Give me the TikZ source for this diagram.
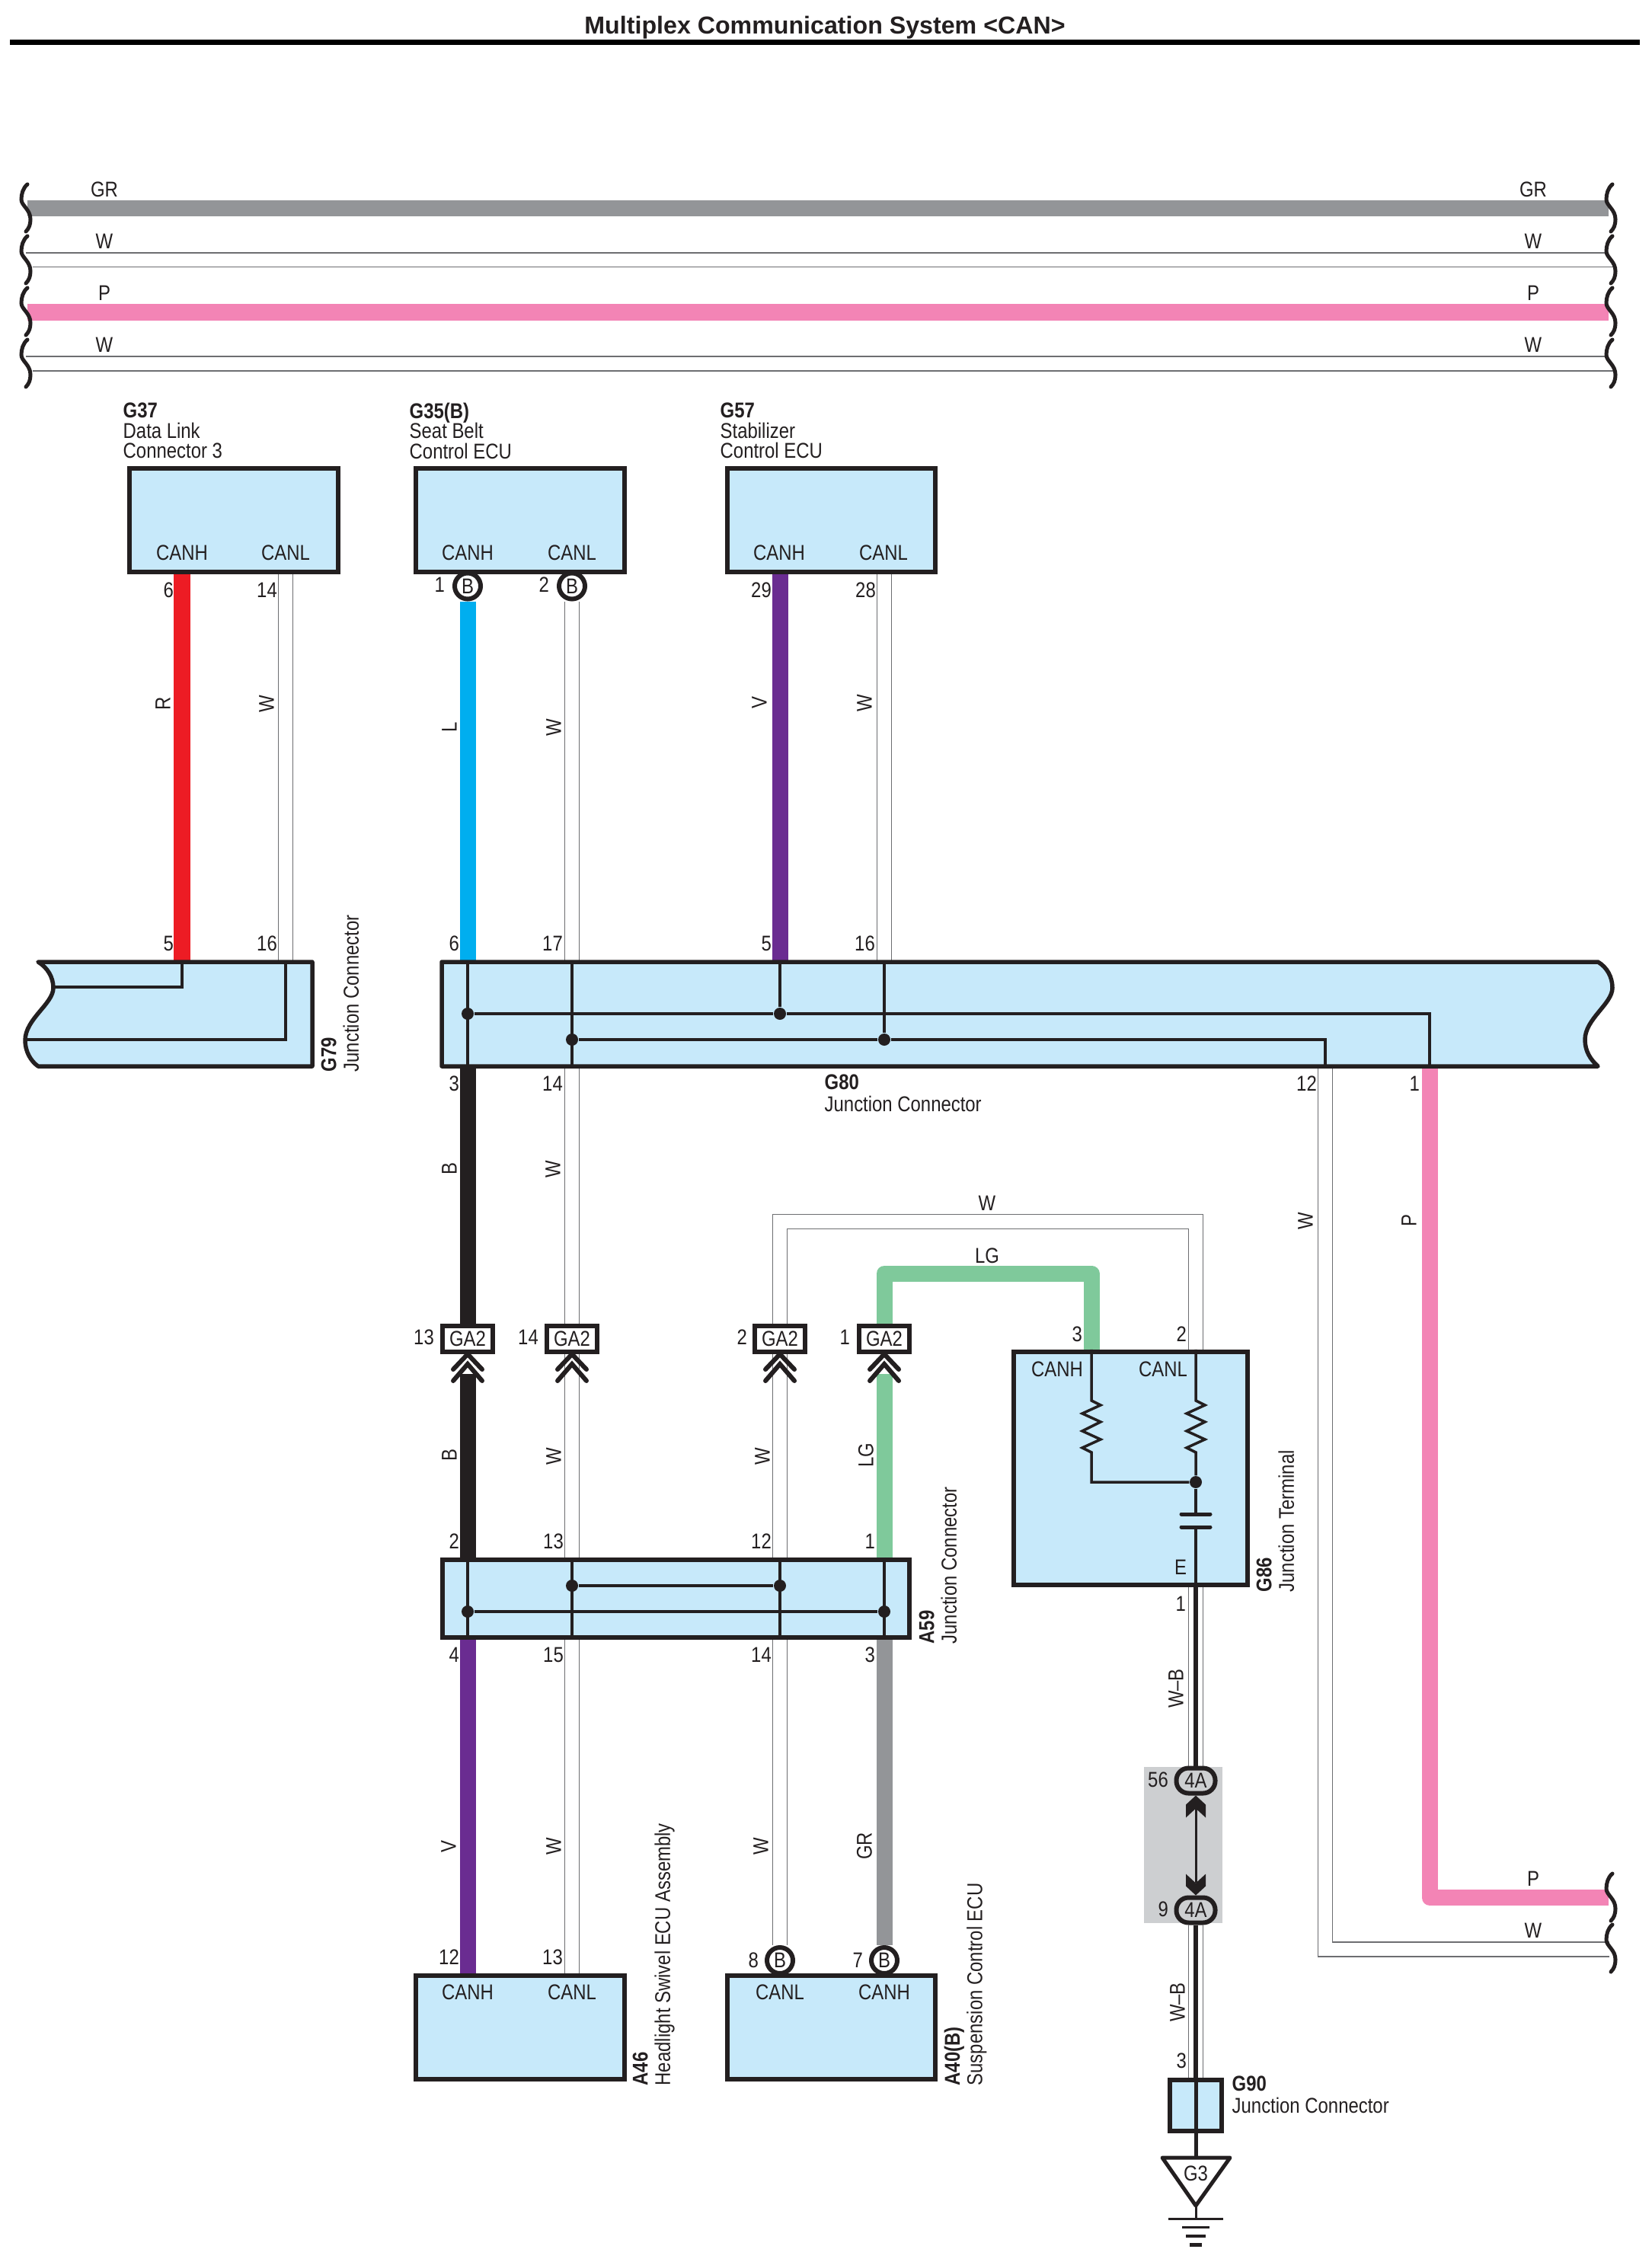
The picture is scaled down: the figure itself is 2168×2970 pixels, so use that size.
\documentclass[tikz,border=0pt]{standalone}
\usepackage{fontspec}
\usetikzlibrary{backgrounds}
\setmainfont{Liberation Sans}[FakeStretch=0.85]
\newfontfamily\titlefont{Liberation Sans}
\definecolor{colGR}{HTML}{939598}
\definecolor{colP}{HTML}{F384B5}
\definecolor{colR}{HTML}{ED1C24}
\definecolor{colL}{HTML}{00AEEF}
\definecolor{colV}{HTML}{6A2C91}
\definecolor{colLG}{HTML}{7FC99B}
\definecolor{colB}{HTML}{231F20}
\definecolor{colW}{HTML}{6D6E71}
\definecolor{colBox}{HTML}{C7E9FA}
\definecolor{colShade}{HTML}{CDCFD1}
\tikzset{
    wire/.style={line width=0.21cm,line join=round},
    wirew/.style={draw=colW,line width=0.015cm,double=white,double distance=0.175cm},
    busw/.style={draw=colW,line width=0.015cm},
    ecu/.style={draw=colB,fill=colBox,line width=0.06cm,minimum width=2.73cm,minimum height=1.36cm},
    torn/.style={draw=colB,fill=colBox,line width=0.055cm,line join=round},
    inner/.style={draw=colB,line width=0.035cm},
    dot/.style={circle,fill=colB,minimum size=0.16cm},
    pinno/.style={anchor=east,xshift=0.015cm},
    wlabel/.style={rotate=90},
    tag/.style={align=left,anchor=north west,font=\fontsize{8}{8.4}\selectfont},
    tagtop/.style={align=left,anchor=north west,font=\fontsize{8}{7.6}\selectfont},
    ring/.style={circle,draw=colB,fill=white,line width=0.06cm,minimum size=0.34cm},
    ga/.style={draw=colB,fill=white,line width=0.06cm,minimum width=0.66cm,minimum height=0.34cm},
    fourA/.style={draw=colB,fill=colShade,line width=0.06cm,rounded corners=0.16cm,minimum width=0.51cm,minimum height=0.33cm},
    brk/.pic={\draw[colB,line width=0.05cm,line cap=round] (0,0) .. controls (-6,5) and (-8,13) .. (-8,20) .. controls (-8,28) and (4,33) .. (4,46) .. controls (4,53) and (2,58) .. (-2,62);},
    dchev/.pic={\draw[colB,line width=0.06cm,line cap=round] (-19,20) -- (0,0) -- (19,20) (-19,35) -- (0,13) -- (19,35);},
}
\begin{document}
\begin{tikzpicture}[x=0.01cm,y=-0.01cm,every node/.style={inner sep=0pt,text=colB,font=\fontsize{8}{9}\selectfont}]
        \useasboundingbox (0,0) rectangle (2168,2970);
        %% Title
        \node[font=\titlefont\bfseries\fontsize{9.15}{11}\selectfont] (title) at (1083,36) {Multiplex Communication System <CAN>};
        \draw[black,line width=0.07cm] (13,56) -- (2153,56);
        %% Columns
        \coordinate (cA) at (239,0);
        \coordinate (cB) at (375,0);
        \coordinate (cC) at (614,0);
        \coordinate (cD) at (751,0);
        \coordinate (cE) at (1024,0);
        \coordinate (cF) at (1161,0);
        \coordinate (cG) at (1433,0);
        \coordinate (cH) at (1570,0);
        \coordinate (cI) at (1740,0);
        \coordinate (cJ) at (1877,0);
        \coordinate (G80top) at (580,1263);
        \coordinate (G80bot) at (580,1400);
        %% Bus
        \pic (brkA) at (36,242) {brk};
        \pic (brkB) at (36,310) {brk};
        \pic (brkC) at (36,378) {brk};
        \pic (brkD) at (36,446) {brk};
        \pic (brkE) at (2117,242) {brk};
        \pic (brkF) at (2117,310) {brk};
        \pic (brkG) at (2117,378) {brk};
        \pic (brkH) at (2117,446) {brk};
        \node (lblGRa) at (137,249) {GR};
        \node (lblWa) at (137,317) {W};
        \node (lblPa) at (137,385) {P};
        \node (lblWb) at (137,453) {W};
        \node (lblGRb) at (2013,249) {GR};
        \node (lblWc) at (2013,317) {W};
        \node (lblPb) at (2013,385) {P};
        \node (lblWd) at (2013,453) {W};
        %% Upper boxes
        \node[ecu] (G37) at (307,683) {};
        \node[ecu] (G35) at (683,683) {};
        \node[ecu] (G57) at (1091.5,683) {};
        \node[tagtop] (tagG37) at (161,528) {\textbf{G37}\\Data Link\\Connector 3};
        \node[tagtop] (tagG35) at (537,528) {\textbf{G35(B)}\\Seat Belt\\Control ECU};
        \node[tagtop] (tagG57) at (945,528) {\textbf{G57}\\Stabilizer\\Control ECU};
        \node (hG37) at (239,726) {CANH};
        \node (lG37) at (375,726) {CANL};
        \node (hG35) at (614,726) {CANH};
        \node (lG35) at (751,726) {CANL};
        \node (hG57) at (1023,726) {CANH};
        \node (lG57) at (1160,726) {CANL};
        \node[ring] (ringa) at (614,769.5) {B};
        \node[ring] (ringb) at (751,769.5) {B};
        \node[wlabel] (lblR) at (214,924) {R};
        \node[wlabel] (lblWe) at (350,924) {W};
        \node[wlabel] (lblL) at (590,955) {L};
        \node[wlabel] (lblWf) at (727,955) {W};
        \node[wlabel] (lblV) at (997,923) {V};
        \node[wlabel] (lblWg) at (1135,923) {W};
        %% Splices
        \node[ga] (gaa) at (614,1757.5) {GA2};
        \node[ga] (gab) at (751,1757.5) {GA2};
        \node[ga] (gac) at (1024,1757.5) {GA2};
        \node[ga] (gad) at (1161,1757.5) {GA2};
        \pic (chevA) at (614,1778) {dchev};
        \pic (chevB) at (751,1778) {dchev};
        \pic (chevC) at (1024,1778) {dchev};
        \pic (chevD) at (1161,1778) {dchev};
        \coordinate (wTop) at (1294,1604);
        \coordinate (lgTop) at (1294,1672);
        \node[wlabel] (lblBa) at (590,1535) {B};
        \node[wlabel] (lblWh) at (726,1535) {W};
        \node (lblWi) at (1296,1580) {W};
        \node (lblLGa) at (1296,1649) {LG};
        \node[wlabel] (lblBb) at (590,1911) {B};
        \node[wlabel] (lblWj) at (727,1912) {W};
        \node[wlabel] (lblWk) at (1001,1912) {W};
        \node[wlabel] (lblLGb) at (1137,1911) {LG};
        %% Lower boxes
        \node[ecu,minimum width=6.13cm,minimum height=1.02cm] (A59) at (887.5,2099) {};
        \node[ecu,minimum width=3.07cm,minimum height=3.06cm] (G86) at (1484.5,1928) {};
        \node[ecu] (A46) at (683,2662) {};
        \node[ecu] (A40) at (1091.5,2662) {};
        \node[ecu,minimum width=0.68cm,minimum height=0.67cm] (G90) at (1570,2764.5) {};
        \node[ring] (ringc) at (1024,2574) {B};
        \node[ring] (ringd) at (1161,2574) {B};
        \node[wlabel] (lblVb) at (589,2424) {V};
        \node[wlabel] (lblWl) at (727,2424) {W};
        \node[wlabel] (lblWm) at (999,2424) {W};
        \node[wlabel] (lblGRc) at (1135,2424) {GR};
        \node (hA46) at (614,2616) {CANH};
        \node (lA46) at (751,2616) {CANL};
        \node (lA40) at (1024,2616) {CANL};
        \node (hA40) at (1161,2616) {CANH};
        \node[tag,rotate=90] (tagA46) at (830,2739) {\textbf{A46}\\Headlight Swivel ECU Assembly};
        \node[tag,rotate=90] (tagA40) at (1239,2739) {\textbf{A40(B)}\\Suspension Control ECU};
        %% G79
        \draw[torn] (410,1263) -- (50,1263) .. controls (62,1270) and (70,1283) .. (70,1297) .. controls (70,1318) and (33,1338) .. (33,1366) .. controls (33,1380) and (40,1393) .. (50,1400) -- (410,1400) -- cycle;
        \draw[inner] (cA |- G80top) -- (cA |- 0,1296) -- (70,1296);
        \draw[inner] (cB |- G80top) -- (cB |- 0,1365) -- (33,1365);
        \node[tag,rotate=90] (tagG79) at (421,1408) {\textbf{G79}\\Junction Connector};
        %% G80
        \draw[torn] (G80top) -- (2098,1263) .. controls (2110,1270) and (2117,1283) .. (2117,1297) .. controls (2117,1318) and (2081,1338) .. (2081,1365) .. controls (2081,1380) and (2088,1391) .. (2098,1400) -- (G80bot) -- cycle;
        \node[dot] (dotA) at (614,1331) {};
        \node[dot] (dotB) at (1024,1331) {};
        \node[dot] (dotC) at (751,1365) {};
        \node[dot] (dotD) at (1161,1365) {};
        \draw[inner] (cC |- G80top) -- (cC |- G80bot);
        \draw[inner] (cD |- G80top) -- (cD |- G80bot);
        \draw[inner] (cE |- G80top) -- (dotB);
        \draw[inner] (cF |- G80top) -- (dotD);
        \draw[inner] (dotA) -- (dotB) -- (cJ |- dotB) -- (cJ |- G80bot);
        \draw[inner] (dotC) -- (dotD) -- (cI |- dotD) -- (cI |- G80bot);
        \node[tag] (tagG80) at (1082,1410) {\textbf{G80}\\Junction Connector};
        %% A59
        \node[dot] (dotE) at (751,2082) {};
        \node[dot] (dotF) at (1024,2082) {};
        \node[dot] (dotG) at (614,2116) {};
        \node[dot] (dotH) at (1161,2116) {};
        \draw[inner] (cC |- A59.north) -- (cC |- A59.south);
        \draw[inner] (cD |- A59.north) -- (cD |- A59.south);
        \draw[inner] (cE |- A59.north) -- (cE |- A59.south);
        \draw[inner] (cF |- A59.north) -- (cF |- A59.south);
        \draw[inner] (dotE) -- (dotF);
        \draw[inner] (dotG) -- (dotH);
        \node[tag,rotate=90] (tagA59) at (1206,2159) {\textbf{A59}\\Junction Connector};
        %% G86
        \node[dot] (dotI) at (1570,1946) {};
        \draw[inner] (cG |- G86.north) -- ++(0,67) -- ++(12,6) -- ++(-24,11) -- ++(24,11) -- ++(-24,12) -- ++(24,11) -- ++(-24,11) -- ++(12,6) |- (dotI);
        \draw[inner] (cH |- G86.north) -- ++(0,67) -- ++(12,6) -- ++(-24,11) -- ++(24,11) -- ++(-24,12) -- ++(24,11) -- ++(-24,11) -- ++(12,6) -- (dotI);
        \coordinate (capA) at (1570,1988);
        \coordinate (capB) at (1570,2005);
        \draw[inner] (dotI) -- (capA);
        \draw[inner] (capB) -- (cH |- G86.south);
        \draw[colB,line width=0.05cm,line cap=round] (capA) ++(-19,0) -- ++(38,0);
        \draw[colB,line width=0.05cm,line cap=round] (capB) ++(-19,0) -- ++(38,0);
        \node (hG86) at (1388,1798) {CANH};
        \node (lG86) at (1527,1798) {CANL};
        \node (eG86) at (1550,2058) {E};
        \node[tag,rotate=90] (tagG86) at (1649,2091) {\textbf{G86}\\Junction Terminal};
        %% Ground wire
        \node[fourA] (fourAa) at (1570,2338) {4A};
        \node[fourA] (fourAb) at (1570,2508) {4A};
        \fill[colB] (fourAa.south) -- ++(13,12) -- ++(0,17) -- ++(-13,-12) -- ++(-13,12) -- ++(0,-17) -- cycle;
        \fill[colB] (fourAb.north) -- ++(13,-12) -- ++(0,-16) -- ++(-13,12) -- ++(-13,-12) -- ++(0,16) -- cycle;
        \draw[colB,line width=0.03cm] (fourAa.south) ++(0,15) -- (1570,2472);
        \coordinate (gndT) at (1570,2833);
        \coordinate (gndA) at (1570,2896);
        \coordinate (gndE) at (1570,2913);
        \draw[colB,line width=0.05cm] (G90.north) -- (gndT);
        \draw[colB,line width=0.05cm,line join=round] (1526,2833) -- (1615,2833) -- (gndA) -- cycle;
        \draw[colB,line width=0.03cm] (gndA) -- (gndE);
        \draw[colB,line width=0.03cm] (gndE) ++(-36,0) -- ++(72,0);
        \draw[colB,line width=0.03cm] (gndE) ++(-18,11.5) -- ++(36,0);
        \draw[colB,line width=0.04cm] (gndE) ++(-13,23) -- ++(26,0);
        \draw[colB,line width=0.05cm] (gndE) ++(-8,34) -- ++(16,0);
        \node (lblG3) at (1570,2854) {G3};
        \node[tag] (tagG90) at (1617,2725) {\textbf{G90}\\Junction Connector};
        \node[wlabel] (lblWBa) at (1544,2217) {W--B};
        \node[wlabel] (lblWBb) at (1546,2629) {W--B};
        %% G80 wires out
        \coordinate (pEnd) at (2112,2491.5);
        \coordinate (wEnd) at (2113,2559.5);
        \pic (brkI) at (2117,2460) {brk};
        \pic (brkJ) at (2117,2527) {brk};
        \node[wlabel] (lblWn) at (1714,1603) {W};
        \node[wlabel] (lblPc) at (1850,1603) {P};
        \node (lblPd) at (2013,2467) {P};
        \node (lblWo) at (2013,2535) {W};
        %% Pin numbers
        \node[pinno] (pa) at (227,775) {6};
        \node[pinno] (pb) at (363,775) {14};
        \node[pinno] (pc) at (583,768) {1};
        \node[pinno] (pd) at (720,768) {2};
        \node[pinno] (pe) at (1012,775) {29};
        \node[pinno] (pf) at (1149,775) {28};
        \node[pinno] (pg) at (227,1239) {5};
        \node[pinno] (ph) at (363,1239) {16};
        \node[pinno] (pi) at (602,1239) {6};
        \node[pinno] (pj) at (738,1239) {17};
        \node[pinno] (pk) at (1012,1239) {5};
        \node[pinno] (pl) at (1148,1239) {16};
        \node[pinno] (pm) at (602,1423) {3};
        \node[pinno] (pn) at (738,1423) {14};
        \node[pinno] (po) at (1728,1423) {12};
        \node[pinno] (pp) at (1863,1423) {1};
        \node[pinno] (pq) at (569,1756) {13};
        \node[pinno] (pr) at (706,1756) {14};
        \node[pinno] (ps) at (980,1756) {2};
        \node[pinno] (pt) at (1115,1756) {1};
        \node[pinno] (pu) at (602,2024) {2};
        \node[pinno] (pv) at (739,2024) {13};
        \node[pinno] (pw) at (1012,2024) {12};
        \node[pinno] (px) at (1148,2024) {1};
        \node[pinno] (py) at (602,2173) {4};
        \node[pinno] (pz) at (739,2173) {15};
        \node[pinno] (qa) at (1012,2173) {14};
        \node[pinno] (qb) at (1148,2173) {3};
        \node[pinno] (qc) at (602,2570) {12};
        \node[pinno] (qd) at (738,2570) {13};
        \node[pinno] (qe) at (995,2574) {8};
        \node[pinno] (qf) at (1132,2574) {7};
        \node[pinno] (qg) at (1420,1752) {3};
        \node[pinno] (qh) at (1557,1752) {2};
        \node[pinno] (qi) at (1556,2106) {1};
        \node[pinno] (qj) at (1533,2337) {56};
        \node[pinno] (qk) at (1533,2507) {9};
        \node[pinno] (ql) at (1557,2706) {3};
        %% Wires, behind everything
        \begin{scope}[on background layer]
        \fill[colShade] (1502,2320) rectangle (1605,2525);
        \draw[wire,draw=colGR] (36,273.5) -- (2112,273.5);
        \draw[busw] (34,332) -- (2109,332);
        \draw[busw] (43,350.5) -- (2118,350.5);
        \draw[wire,draw=colP] (36,410) -- (2112,410);
        \draw[busw] (34,468) -- (2109,468);
        \draw[busw] (43,487) -- (2118,487);
        \draw[wire,draw=colR] (G37.south -| cA) -- (cA |- G80top);
        \draw[wirew] (G37.south -| cB) -- (cB |- G80top);
        \draw[wire,draw=colL] (ringa) -- (cC |- G80top);
        \draw[wirew] (ringb) -- (cD |- G80top);
        \draw[wire,draw=colV] (G57.south -| cE) -- (cE |- G80top);
        \draw[wirew] (G57.south -| cF) -- (cF |- G80top);
        \draw[wire,draw=colB] (cC |- G80bot) -- (gaa);
        \draw[wirew] (cD |- G80bot) -- (gab);
        \draw[wirew] (gac) -- (cE |- wTop) -- (cH |- wTop) -- (cH |- G86.north);
        \draw[wire,draw=colLG] (gad) -- (cF |- lgTop) -- (cG |- lgTop) -- (cG |- G86.north);
        \draw[wire,draw=colB] (gaa.south) ++(0,26) -- (cC |- A59.north);
        \draw[wirew] (gab) -- (cD |- A59.north);
        \draw[wirew] (gac) -- (cE |- A59.north);
        \draw[wire,draw=colLG] (gad.south) ++(0,26) -- (cF |- A59.north);
        \draw[wire,draw=colV] (cC |- A59.south) -- (cC |- A46.north);
        \draw[wirew] (cD |- A59.south) -- (cD |- A46.north);
        \draw[wirew] (cE |- A59.south) -- (ringc);
        \draw[wire,draw=colGR] (cF |- A59.south) -- (ringd);
        \draw[wirew] (cI |- G80bot) -- (cI |- wEnd) -- (wEnd);
        \draw[wire,draw=colP] (cJ |- G80bot) -- (cJ |- pEnd) -- (pEnd);
        \draw[wirew] (cH |- G86.south) -- (fourAa);
        \draw[wirew] (fourAb) -- (cH |- G90.north);
        \draw[colB,line width=0.06cm] (cH |- G86.south) -- (fourAa);
        \draw[colB,line width=0.06cm] (fourAb) -- (cH |- G90.north);
        \end{scope}
\end{tikzpicture}
\end{document}
